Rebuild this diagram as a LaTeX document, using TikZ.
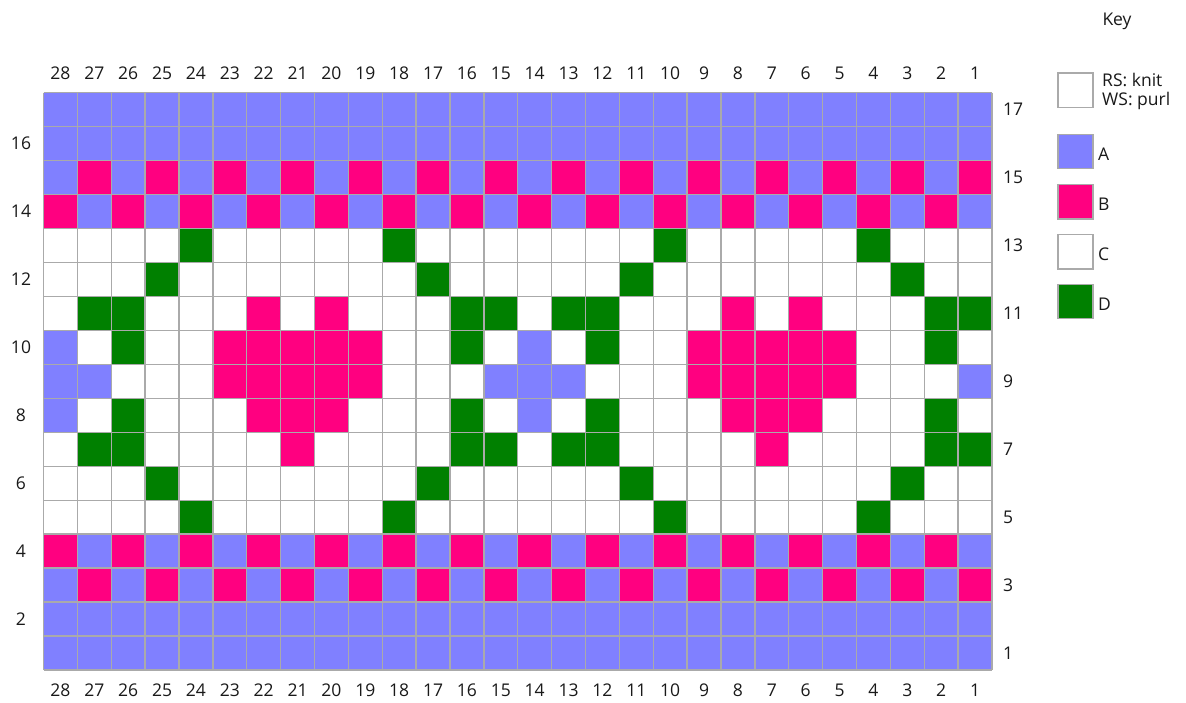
\documentclass[tikz,border=0pt]{standalone}
\usepackage{fontspec}
\setmainfont{Open Sans}
\definecolor{colA}{RGB}{128,128,255}
\definecolor{colB}{RGB}{255,0,128}
\definecolor{colC}{RGB}{255,255,255}
\definecolor{colD}{RGB}{0,128,0}
\definecolor{gridgray}{RGB}{170,170,170}
\def\cw{33.875}
\def\ch{33.96}
\def\gx{43.5}
\def\gy{92.7}
\newcommand\chartrow[2]{%
  \foreach \c [count=\i] in {#2} {%
    \fill[fill=col\c] ({\gx+(\i-1)*\cw},{\gy+(17-#1)*\ch}) rectangle ++(\cw,\ch);
  }%
}
\tikzset{
  lab/.style={font=\fontsize{17.5}{21}\selectfont, inner sep=0pt, text=black!90},
  gridline/.style={draw=gridgray, line width=1.4pt},
  keybox/.style={draw=gridgray, line width=1.4pt},
}
\begin{document}
\begin{tikzpicture}[x=1pt,y=-1pt]
\useasboundingbox[fill=white] (0,0) rectangle (1186,702);
% chart cells (left = st 28, right = st 1)
\chartrow{17}{A,A,A,A,A,A,A,A,A,A,A,A,A,A,A,A,A,A,A,A,A,A,A,A,A,A,A,A}
\chartrow{16}{A,A,A,A,A,A,A,A,A,A,A,A,A,A,A,A,A,A,A,A,A,A,A,A,A,A,A,A}
\chartrow{15}{A,B,A,B,A,B,A,B,A,B,A,B,A,B,A,B,A,B,A,B,A,B,A,B,A,B,A,B}
\chartrow{14}{B,A,B,A,B,A,B,A,B,A,B,A,B,A,B,A,B,A,B,A,B,A,B,A,B,A,B,A}
\chartrow{13}{C,C,C,C,D,C,C,C,C,C,D,C,C,C,C,C,C,C,D,C,C,C,C,C,D,C,C,C}
\chartrow{12}{C,C,C,D,C,C,C,C,C,C,C,D,C,C,C,C,C,D,C,C,C,C,C,C,C,D,C,C}
\chartrow{11}{C,D,D,C,C,C,B,C,B,C,C,C,D,D,C,D,D,C,C,C,B,C,B,C,C,C,D,D}
\chartrow{10}{A,C,D,C,C,B,B,B,B,B,C,C,D,C,A,C,D,C,C,B,B,B,B,B,C,C,D,C}
\chartrow{9}{A,A,C,C,C,B,B,B,B,B,C,C,C,A,A,A,C,C,C,B,B,B,B,B,C,C,C,A}
\chartrow{8}{A,C,D,C,C,C,B,B,B,C,C,C,D,C,A,C,D,C,C,C,B,B,B,C,C,C,D,C}
\chartrow{7}{C,D,D,C,C,C,C,B,C,C,C,C,D,D,C,D,D,C,C,C,C,B,C,C,C,C,D,D}
\chartrow{6}{C,C,C,D,C,C,C,C,C,C,C,D,C,C,C,C,C,D,C,C,C,C,C,C,C,D,C,C}
\chartrow{5}{C,C,C,C,D,C,C,C,C,C,D,C,C,C,C,C,C,C,D,C,C,C,C,C,D,C,C,C}
\chartrow{4}{B,A,B,A,B,A,B,A,B,A,B,A,B,A,B,A,B,A,B,A,B,A,B,A,B,A,B,A}
\chartrow{3}{A,B,A,B,A,B,A,B,A,B,A,B,A,B,A,B,A,B,A,B,A,B,A,B,A,B,A,B}
\chartrow{2}{A,A,A,A,A,A,A,A,A,A,A,A,A,A,A,A,A,A,A,A,A,A,A,A,A,A,A,A}
\chartrow{1}{A,A,A,A,A,A,A,A,A,A,A,A,A,A,A,A,A,A,A,A,A,A,A,A,A,A,A,A}
% grid lines
\foreach \k in {0,...,28} {
  \draw[gridline] ({\gx+\k*\cw},\gy) -- ({\gx+\k*\cw},{\gy+17*\ch});
}
\foreach \k in {0,...,17} {
  \draw[gridline] (\gx,{\gy+\k*\ch}) -- ({\gx+28*\cw},{\gy+\k*\ch});
}
% column numbers
\foreach \c in {1,...,28} {
  \node[lab] (top\c) at ({\gx+(28-\c+0.5)*\cw},73) {\c};
  \node[lab] (bot\c) at ({\gx+(28-\c+0.5)*\cw},690) {\c};
}
% row numbers
\foreach \r in {2,4,...,16} {
  \node[lab] (rowl\r) at (21,{\gy+(17-\r+0.5)*\ch}) {\r};
}
\foreach \r in {1,3,...,17} {
  \node[lab, anchor=west] (rowr\r) at (1003,{\gy+(17-\r+0.5)*\ch}) {\r};
}
% key
\node[lab] (keytitle) at (1117,21.5) {Key};
\draw[keybox, fill=colC] (1058,73) rectangle (1093,107.5);
\node[lab, anchor=west] (rs) at (1102,79.5) {RS: knit};
\node[lab, anchor=west] (ws) at (1102,101) {WS: purl};
\draw[keybox, fill=colA] (1058,134.5) rectangle (1093,168.5);
\node[lab, anchor=west] (ka) at (1098,154.5) {A};
\draw[keybox, fill=colB] (1058,184.5) rectangle (1093,219);
\node[lab, anchor=west] (kb) at (1098,204.5) {B};
\draw[keybox, fill=colC] (1058,234.5) rectangle (1093,269);
\node[lab, anchor=west] (kc) at (1098,254.5) {C};
\draw[keybox, fill=colD] (1058,284.5) rectangle (1093,318.5);
\node[lab, anchor=west] (kd) at (1098,304.5) {D};
\end{tikzpicture}
\end{document}
